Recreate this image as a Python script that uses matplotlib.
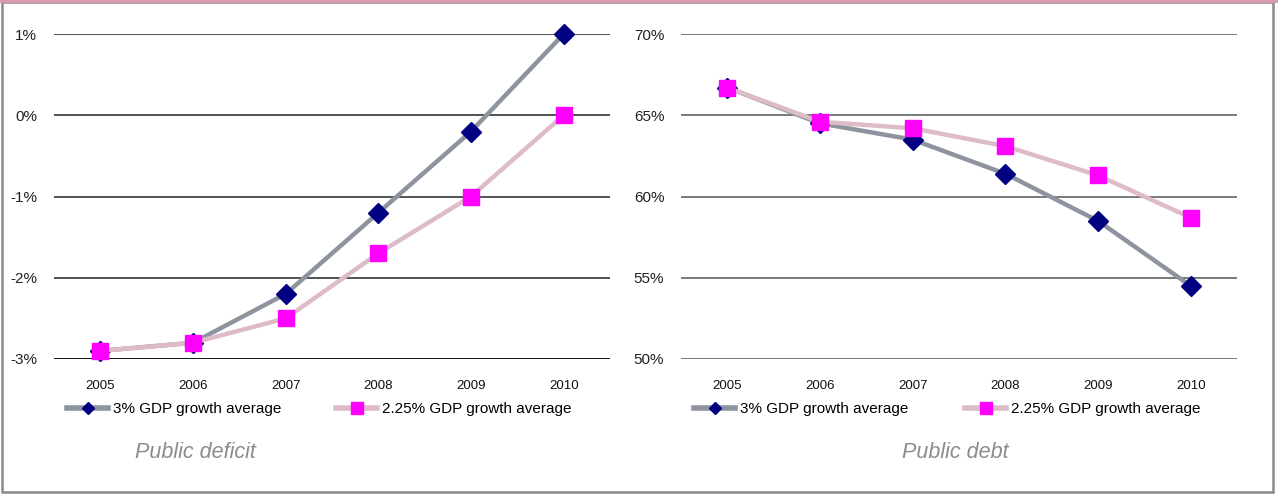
import matplotlib.pyplot as plt
from matplotlib.lines import Line2D
from matplotlib.patches import Rectangle
from matplotlib.ticker import FuncFormatter

years = ['2005', '2006', '2007', '2008', '2009', '2010']
series_names = ['3% GDP growth average', '2.25% GDP growth average']

# public deficit, % of GDP
deficit_3 = [-2.9, -2.8, -2.2, -1.2, -0.2, 1.0]
deficit_225 = [-2.9, -2.8, -2.5, -1.7, -1.0, 0.0]

# public debt, % of GDP
debt_3 = [66.7, 64.5, 63.5, 61.4, 58.5, 54.5]
debt_225 = [66.7, 64.6, 64.2, 63.1, 61.3, 58.7]

font = ['Liberation Sans', 'DejaVu Sans']
line_clrs = ['#8E949F', '#DDBBC8']
mk_clrs = ['#000080', '#FF00FF']
mks = ['D', 's']
mss = [10, 12]
leg_mss = [6.5, 8.5]

W, H = 1278, 495
fig = plt.figure(figsize=(W / 100, H / 100), dpi=100)


def px_axes(x0, x1, y0, y1):
    return fig.add_axes([x0 / W, 1 - y1 / H, (x1 - x0) / W, (y1 - y0) / H])


def draw_panel(ax, s1, s2, ylim, yticks, grid_clr, legend_x, title, title_x):
    xs = range(len(years))
    series = [s1, s2]
    for k in (1, 0):
        ax.plot(xs, series[k], color=line_clrs[k], lw=3.2, marker=mks[k], ms=mss[k],
                mfc=mk_clrs[k], mec=mk_clrs[k], clip_on=False, zorder=3 + k)
    ax.set_xlim(-0.5, len(years) - 0.5)
    ax.set_ylim(*ylim)
    ax.set_yticks(yticks)
    ax.yaxis.set_major_formatter(FuncFormatter(lambda v, p: f'{v:.0f}%'))
    ax.set_xticks(list(xs))
    ax.set_xticklabels(years, family=font, fontsize=9.5)
    for lab in ax.get_yticklabels():
        lab.set_family(font)
        lab.set_fontsize(11)
    ax.tick_params(axis='y', length=0, pad=12, colors='#222222')
    ax.tick_params(axis='x', length=0, pad=15, colors='#111111')
    for sp in ax.spines.values():
        sp.set_visible(False)
    ax.grid(axis='y', color=grid_clr, lw=1.3)
    ax.set_axisbelow(True)

    # one legend per series, placed under the year labels
    for i in range(2):
        h = Line2D([0], [0], color=line_clrs[i], lw=4, marker=mks[i],
                   ms=leg_mss[i], mfc=mk_clrs[i], mec=mk_clrs[i])
        fig.legend([h], [series_names[i]], loc='center left',
                   bbox_to_anchor=(legend_x[i] / W, 1 - 409 / H),
                   bbox_transform=fig.transFigure, frameon=False,
                   borderpad=0, borderaxespad=0, handlelength=2.7,
                   handletextpad=0.3, prop={'family': font, 'size': 11})
    fig.text(title_x / W, 1 - 453 / H, title, ha='center', va='center',
             fontsize=15.5, style='italic', color='#8C8C8C', family=font)


ax1 = px_axes(54, 610, 34, 359)
draw_panel(ax1, deficit_3, deficit_225, (-3, 1), [-3, -2, -1, 0, 1],
           '#444444', [67, 336], 'Public deficit', 195)
ax1.axhline(-3, color='#111111', lw=1.3, zorder=1)

ax2 = px_axes(681, 1237, 34, 359)
draw_panel(ax2, debt_3, debt_225, (50, 70), [50, 55, 60, 65, 70],
           '#6E6E6E', [694, 965], 'Public debt', 955)

# frame round the whole figure
fig.patches.append(Rectangle((1.5 / W, 1 - 492 / H), 1271 / W, 490.5 / H,
                             transform=fig.transFigure, fill=False,
                             edgecolor='#8A8A8A', lw=1.8))
fig.patches.append(Rectangle((0, 1 - 2.5 / H), 1, 2.5 / H, transform=fig.transFigure,
                             facecolor='#D89AAE', edgecolor='none'))

fig.savefig('out.png', dpi=100)
